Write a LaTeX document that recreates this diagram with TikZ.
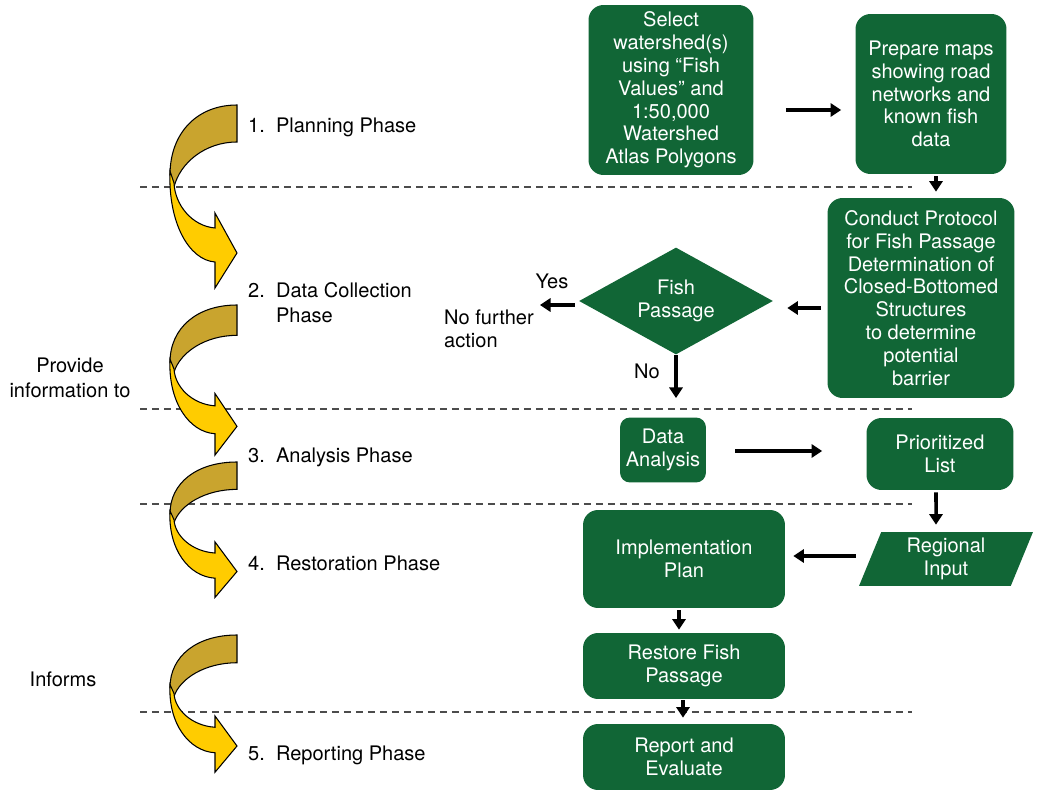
\documentclass[tikz,border=0pt]{standalone}
\usepackage{fontspec}
\setmainfont{TeX Gyre Heros}
\usetikzlibrary{shapes.geometric,arrows.meta,calc}

\definecolor{boxgreen}{RGB}{17,102,54}
\definecolor{darkgold}{RGB}{201,164,46}
\definecolor{brightgold}{RGB}{255,204,0}

\tikzset{
  >={Triangle[length=6pt,width=7.5pt]},
  phasearrow/.pic={
    \filldraw[fill=darkgold,line width=0.6pt] (0,0) .. controls (-40,0) and (-67,28) .. (-67,70)
      -- (-63,82) .. controls (-57,58) and (-32,37) .. (0,37) -- cycle;
    \filldraw[fill=brightgold,line width=0.6pt] (-67,66) .. controls (-69,118) and (-48,155) .. (-22,157)
      -- (-22,183) -- (0,148) -- (-22,108) -- (-22,123)
      .. controls (-45,121) and (-62,100) .. (-63,78) -- cycle;
  }
}

\begin{document}
\begin{tikzpicture}[x=0.02cm,y=-0.02cm,font=\fontsize{11.4}{13}\selectfont,
  greenbox/.style={fill=boxgreen,text=white,rounded corners=0.3cm,align=center,inner sep=0pt},
  flow/.style={->,line width=2pt},
  phase/.style={anchor=west,align=left,font=\fontsize{11.4}{14.2}\selectfont},
  sepline/.style={dash pattern=on 0.14cm off 0.1cm,line width=0.8pt,black!70}]

\useasboundingbox (0,0) rectangle (1046,791);

% phase separators
\draw[sepline] (140,187) -- (912,187);
\draw[sepline] (140,409) -- (912,409);
\draw[sepline] (140,504) -- (912,504);
\draw[sepline] (140,712) -- (912,712);

% curved phase arrows
\pic at (237,105) {phasearrow};
\pic[yscale=0.82] at (237,305) {phasearrow};
\pic[yscale=0.74] at (237,462) {phasearrow};
\pic[yscale=0.75] at (237,635) {phasearrow};

% phase labels
\node[phase] (ph1) at (242,127) {1.\ \ Planning Phase};
\node[phase] (ph2) at (242,303) {2.\ \ Data Collection\\\phantom{2.\ \ }Phase};
\node[phase] (ph3) at (242,457) {3.\ \ Analysis Phase};
\node[phase] (ph4) at (242,563) {4.\ \ Restoration Phase};
\node[phase] (ph5) at (242,755) {5.\ \ Reporting Phase};

\node[align=center,font=\fontsize{11.4}{14.5}\selectfont] (provide) at (70,378) {Provide\\information to};
\node (informs) at (63,679) {Informs};

% flow chart
\node[greenbox,minimum width=3.30cm,minimum height=3.40cm] (select) at (671,90)
  {Select\\watershed(s)\\using “Fish\\Values” and\\1:50,000\\Watershed\\Atlas Polygons};
\node[greenbox,minimum width=3.02cm,minimum height=3.20cm] (maps) at (931,94)
  {Prepare maps\\showing road\\networks and\\known fish\\data};
\node[greenbox,minimum width=3.74cm,minimum height=4.00cm] (protocol) at (921,298)
  {Conduct Protocol\\for Fish Passage\\Determination of\\Closed-Bottomed\\Structures\\to determine\\potential\\barrier};
\node[diamond,fill=boxgreen,text=white,align=center,inner sep=0pt,aspect=1.8,
  minimum width=3.88cm,minimum height=2.14cm] (passage) at (676,301) {Fish\\Passage};
\node[align=left] (nofurther) at (489,329) {No further\\action};
\node (yes) at (552,281) {Yes};
\node (no) at (647,371) {No};
\coordinate (yesend) at (540,305);
\coordinate (noend) at (676,398);

\node[greenbox,rounded corners=0.2cm,minimum width=1.72cm,minimum height=1.30cm] (analysis) at (663,450)
  {Data\\Analysis};
\node[greenbox,minimum width=2.94cm,minimum height=1.44cm] (prio) at (940,454)
  {Prioritized\\List};
\node[greenbox,minimum width=4.04cm,minimum height=1.96cm] (impl) at (684,559)
  {Implementation\\Plan};
\node[trapezium,trapezium left angle=62,trapezium right angle=118,trapezium stretches body,
  fill=boxgreen,text=white,align=center,inner sep=0pt,
  minimum width=3.48cm,minimum height=1.08cm] (regional) at (946,559) {Regional\\Input};
\node[greenbox,minimum width=4.04cm,minimum height=1.32cm] (restore) at (684,666)
  {Restore Fish\\Passage};
\node[greenbox,minimum width=4.04cm,minimum height=1.32cm] (report) at (684,757)
  {Report and\\Evaluate};

% connectors
\draw[flow] ($(select.east)+(32,20)$) -- ($(maps.west)+(-14,16)$);
\draw[flow] ($(maps.south)+(5,2)$) -- ($(protocol.north)+(15,-6)$);
\draw[flow] ($(protocol.west)+(-6,10)$) -- ($(passage.east)+(14,7)$);
\draw[flow] ($(passage.west)+(-4,4)$) -- (yesend);
\draw[flow] (passage.south) -- (noend);
\draw[flow] ($(analysis.east)+(29,1)$) -- ($(prio.west)+(-44,-3)$);
\draw[flow] ($(prio.south)+(-4,2)$) -- ($(regional.north)+(-10,-7)$);
\draw[flow] ($(regional.west)+(-14,-3)$) -- ($(impl.east)+(8,-3)$);
\draw[flow] ($(impl.south)+(-5,2)$) -- ($(restore.north)+(-5,-3)$);
\draw[flow] ($(restore.south)+(-1,1)$) -- ($(report.north)+(-1,-6)$);

\end{tikzpicture}
\end{document}
